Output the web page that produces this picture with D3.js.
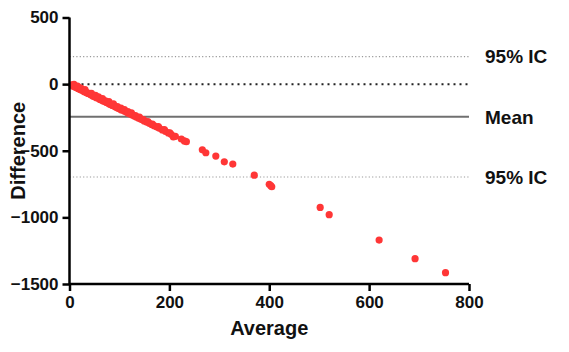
<!DOCTYPE html>
<html>
<head>
<meta charset="utf-8">
<script src="https://cdn.jsdelivr.net/npm/d3@7"></script>
<style>
  body { margin: 0; background: #fff; }
  text { font-family: "Liberation Sans", Arial, Helvetica, sans-serif; font-weight: bold; fill: #111; }
</style>
</head>
<body>
<svg id="canvas" width="569" height="352"></svg>
<script>
// Bland-Altman style data: [average, difference]
const averages = [5,7,8,10,12,13,15,17,18,20,22,24,26,28,30,33,35,38,40,43,46,48,51,54,57,60,62,65,68,71,74,77,80,83,86,89,92,95,98,101,104,108,111,115,118,122,126,130,134,138,142,146,150,155,160,165,170,175,180,186,192,198,204,208,212,224,230,234,
  9,16,23,31,44,52,58,66,72,79,88,96,103,110,117,124,132,140,148,157,166,178,190,201,
  266,273,293,310,327,370,400,403,405,502,520,620,692,753]
const differences = [-6,-10,-18,-15,-24,-20,-28,-32,-26,-38,-40,-46,-44,-52,-58,-60,-66,-72,-70,-82,-84,-92,-94,-102,-104,-112,-118,-120,-128,-130,-138,-142,-150,-154,-160,-164,-172,-176,-182,-186,-194,-198,-206,-212,-218,-226,-232,-240,-246,-254,-262,-268,-278,-286,-294,-304,-314,-322,-332,-344,-354,-366,-378,-396,-392,-412,-426,-432,
  -2,-14,-30,-42,-70,-84,-96,-108,-126,-132,-148,-168,-180,-192,-206,-216,-236,-248,-266,-282,-300,-318,-342,-366,
  -493,-515,-540,-583,-600,-683,-752,-762,-770,-925,-980,-1170,-1310,-1415]

const meanDiff = -245
const upperIC = 207
const lowerIC = -697

const refLines = [
  { value: upperIC, label: "95% IC", kind: "ic" },
  { value: 0, label: "", kind: "zero" },
  { value: meanDiff, label: "Mean", kind: "mean" },
  { value: lowerIC, label: "95% IC", kind: "ic" }
]

const xTicks = [0, 200, 400, 600, 800]
const yTicks = [500, 0, -500, -1000, -1500]

const svg = d3.select("#canvas")
const x = d3.scaleLinear().domain([0, 800]).range([69.5, 469])
const y = d3.scaleLinear().domain([-1500, 500]).range([284, 17.5])

// reference lines
const styles = {
  ic:   { stroke: "#9a9a9a", width: 1.2, dash: "1.2,2.2" },
  zero: { stroke: "#222",    width: 2,   dash: "2,4" },
  mean: { stroke: "#707070", width: 2,   dash: null }
}
const ref = svg.append("g").attr("class", "ref")
ref.selectAll("line").data(refLines).enter().append("line")
  .attr("x1", x(0)).attr("x2", x(800))
  .attr("y1", d => y(d.value)).attr("y2", d => y(d.value))
  .attr("stroke", d => styles[d.kind].stroke)
  .attr("stroke-width", d => styles[d.kind].width)
  .attr("stroke-dasharray", d => styles[d.kind].dash)

ref.selectAll("text").data(refLines.filter(d => d.label)).enter().append("text")
  .attr("x", 485).attr("y", d => y(d.value))
  .attr("dy", "0.36em")
  .style("font-size", "19px")
  .text(d => d.label)

// points
const pts = averages.map((a, i) => ({ avg: a, diff: differences[i] }))
svg.append("g").selectAll("circle").data(pts).enter().append("circle")
  .attr("cx", d => x(d.avg)).attr("cy", d => y(d.diff))
  .attr("r", 3.6)
  .attr("fill", "#ff3636")

// axes
const xAxis = svg.append("g").attr("transform", `translate(0,${y(-1500)})`)
  .call(d3.axisBottom(x).tickValues(xTicks).tickSize(7).tickPadding(5).tickFormat(d3.format("d")))
const yAxis = svg.append("g").attr("transform", `translate(${x(0)},0)`)
  .call(d3.axisLeft(y).tickValues(yTicks).tickSize(7).tickPadding(4).tickFormat(d3.format("d")))

for (const g of [xAxis, yAxis]) {
  g.select(".domain").attr("stroke", "#000").attr("stroke-width", 2.5)
  g.selectAll(".tick line").attr("stroke", "#000").attr("stroke-width", 2.5)
  g.selectAll(".tick text")
    .style("font-family", "'Liberation Sans', Arial, sans-serif")
    .style("font-weight", "bold").style("font-size", "17px").attr("fill", "#111")
}
xAxis.select(".domain").attr("d", `M${x(0)},0H${x(800)}`)
yAxis.select(".domain").attr("d", `M0,${y(500)}V${y(-1500)}`)

svg.append("text")
  .attr("x", (x(0) + x(800)) / 2).attr("y", 335)
  .attr("text-anchor", "middle").style("font-size", "20px")
  .text("Average")

svg.append("text")
  .attr("transform", `translate(25,${(y(500) + y(-1500)) / 2}) rotate(-90)`)
  .attr("text-anchor", "middle").style("font-size", "20px")
  .text("Difference")
</script>
</body>
</html>
